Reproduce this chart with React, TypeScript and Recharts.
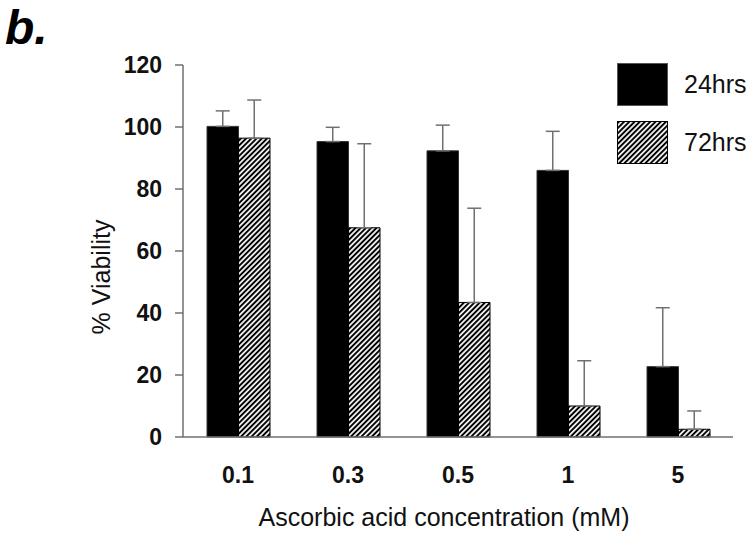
import React from "react";
import {
  BarChart,
  Bar,
  XAxis,
  YAxis,
  ErrorBar,
  Legend,
  Label,
} from "recharts";

const concentrations = ["0.1", "0.3", "0.5", "1", "5"];
const viability24 = [100.2, 95.3, 92.3, 86.0, 22.7];
const viability72 = [96.4, 67.5, 43.4, 10.0, 2.5];
const error24 = [5.0, 4.6, 8.3, 12.6, 19.0];
const error72 = [12.3, 27.1, 30.4, 14.6, 5.9];
const yTicks = [0, 20, 40, 60, 80, 100, 120];

const FONT = '"Liberation Sans", Arial, Helvetica, sans-serif';
const AXIS_GREY = "#707070";

const chartData = concentrations.map((c, i) => ({
  conc: c,
  h24: viability24[i],
  h72: viability72[i],
  e24: [0, error24[i]],
  e72: [0, error72[i]],
}));

// stripes going "/" like the original print
function HatchPattern({ id }: { id: string }) {
  return (
    <pattern
      id={id}
      patternUnits="userSpaceOnUse"
      width={3.7}
      height={3.7}
      patternTransform="rotate(45)"
    >
      <rect width={3.7} height={3.7} fill="#fff" />
      <line x1={1.85} y1={0} x2={1.85} y2={3.7} stroke="#000" strokeWidth={2} />
    </pattern>
  );
}

function LegendBox({ hatched }: { hatched: boolean }) {
  return (
    <svg width={51} height={43} style={{ display: "block" }}>
      <defs>
        <HatchPattern id="hatch-legend" />
      </defs>
      <rect
        x={0.5}
        y={0.5}
        width={50}
        height={42}
        fill={hatched ? "url(#hatch-legend)" : "#000"}
        stroke={hatched ? "#000" : "#555"}
        strokeWidth={1}
      />
    </svg>
  );
}

function CustomLegend() {
  const items = [
    { label: "24hrs", hatched: false },
    { label: "72hrs", hatched: true },
  ];
  return (
    <div style={{ fontFamily: FONT }}>
      {items.map((it, i) => (
        <div
          key={it.label}
          style={{
            display: "flex",
            alignItems: "center",
            height: 43,
            marginBottom: i === 0 ? 15 : 0,
          }}
        >
          <LegendBox hatched={it.hatched} />
          <span style={{ fontSize: 25, marginLeft: 16, color: "#111" }}>{it.label}</span>
        </div>
      ))}
    </div>
  );
}

function YTitle() {
  return (
    <text
      x={101}
      y={277}
      transform="rotate(-90 101 277)"
      textAnchor="middle"
      dominantBaseline="central"
      fontSize={25}
      fontFamily={FONT}
      fill="#111"
    >
      % Viability
    </text>
  );
}

function XTitle() {
  return (
    <text
      x={444}
      y={526}
      textAnchor="middle"
      fontSize={25}
      fontFamily={FONT}
      fill="#111"
    >
      Ascorbic acid concentration (mM)
    </text>
  );
}

export default function App() {
  return (
    <div style={{ position: "absolute", left: 0, top: 0, width: 750, height: 535, background: "#fff" }}>
      <div
        style={{
          position: "absolute",
          left: 5,
          top: 0,
          paddingRight: 6,
          fontFamily: FONT,
          fontWeight: "bold",
          fontStyle: "italic",
          fontSize: 48,
          lineHeight: "normal",
          color: "#000",
          zIndex: 2,
        }}
      >
        b.
      </div>
      <BarChart
        width={750}
        height={535}
        data={chartData}
        margin={{ top: 65, right: 17, left: 0, bottom: 0 }}
        barGap={0}
        barSize={31.5}
      >
        <defs>
          <HatchPattern id="hatch-bar" />
        </defs>
        <XAxis
          dataKey="conc"
          height={98}
          axisLine={{ stroke: AXIS_GREY, strokeWidth: 1.5 }}
          tickLine={false}
          tickSize={0}
          tickMargin={30}
          tick={{ fontSize: 23, fontWeight: "bold", fill: "#111", fontFamily: FONT }}
        >
          <Label content={() => <XTitle />} />
        </XAxis>
        <YAxis
          width={183}
          domain={[0, 120]}
          ticks={yTicks}
          interval={0}
          axisLine={{ stroke: AXIS_GREY, strokeWidth: 1.5 }}
          tickLine={{ stroke: AXIS_GREY, strokeWidth: 1.5 }}
          tickSize={8}
          tickMargin={13}
          tick={{ fontSize: 23, fontWeight: "bold", fill: "#111", fontFamily: FONT }}
        >
          <Label content={() => <YTitle />} />
        </YAxis>
        <Legend
          layout="horizontal"
          align="center"
          verticalAlign="middle"
          wrapperStyle={{ left: 617, top: 63, width: 140, height: 110 }}
          content={() => <CustomLegend />}
        />
        <Bar dataKey="h24" fill="#000" stroke="#333" strokeWidth={1} isAnimationActive={false}>
          <ErrorBar dataKey="e24" direction="y" width={7} stroke={AXIS_GREY} strokeWidth={1.5} />
        </Bar>
        <Bar dataKey="h72" fill="url(#hatch-bar)" stroke="#000" strokeWidth={1} isAnimationActive={false}>
          <ErrorBar dataKey="e72" direction="y" width={7} stroke={AXIS_GREY} strokeWidth={1.5} />
        </Bar>
      </BarChart>
    </div>
  );
}
